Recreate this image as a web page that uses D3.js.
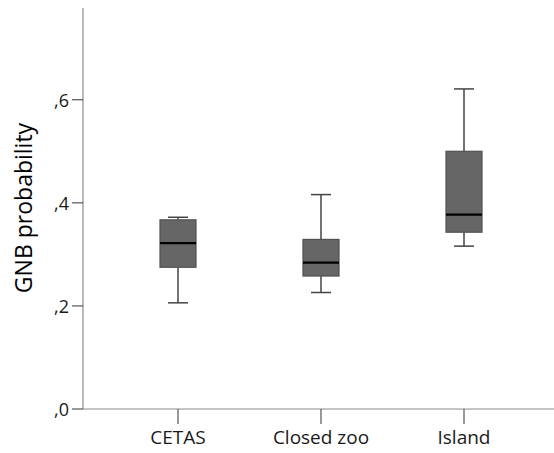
<!DOCTYPE html>
<html><head><meta charset="utf-8">
<script src="https://cdn.jsdelivr.net/npm/d3@7"></script>
<style>body{margin:0;background:#fff}svg{display:block}text{font-family:"Open Sans",sans-serif}</style>
</head><body><svg id="c" width="554" height="453"></svg>
<script>
const categories = ["CETAS", "Closed zoo", "Island"];
const whiskerLow = [0.206, 0.226, 0.316];
const q1 = [0.275, 0.258, 0.343];
const median = [0.322, 0.284, 0.377];
const q3 = [0.367, 0.329, 0.500];
const whiskerHigh = [0.372, 0.416, 0.621];
const yTicks = [0, 0.2, 0.4, 0.6];
const yTickLabels = [",0", ",2", ",4", ",6"];
const yLabel = "GNB probability";

(function () {
const svg = d3.select("#c");
const mLeft = 83, mRight = 554, mTop = 8, mBottom = 409;
const y = d3.scaleLinear().domain([0, 0.778]).range([mBottom, mTop]);
const x = d3.scalePoint().domain(categories).range([178, 464]);

svg.append("line").attr("x1", mLeft).attr("x2", mLeft).attr("y1", mTop).attr("y2", mBottom).attr("stroke", "#8c8c8c").attr("stroke-width", 1.2);
svg.append("line").attr("x1", mLeft).attr("x2", mRight).attr("y1", mBottom).attr("y2", mBottom).attr("stroke", "#8c8c8c").attr("stroke-width", 1.2);

yTicks.forEach((t, i) => {
  svg.append("line").attr("x1", mLeft - 11).attr("x2", mLeft).attr("y1", y(t)).attr("y2", y(t)).attr("stroke", "#555").attr("stroke-width", 1.2);
  svg.append("text").attr("x", mLeft - 14).attr("y", y(t) + 1).attr("dy", "0.35em").attr("text-anchor", "end")
    .attr("font-size", 18).attr("fill", "#1a1a1a").text(yTickLabels[i]);
});
categories.forEach(c => {
  svg.append("line").attr("x1", x(c)).attr("x2", x(c)).attr("y1", mBottom).attr("y2", mBottom + 15).attr("stroke", "#555").attr("stroke-width", 1.2);
  svg.append("text").attr("x", x(c)).attr("y", 437).attr("dy", "0.35em").attr("text-anchor", "middle")
    .attr("font-size", 19).attr("fill", "#1a1a1a").text(c);
});
svg.append("text").attr("transform", "translate(24,208) rotate(-90)").attr("dy", "0.35em")
  .attr("text-anchor", "middle").attr("font-size", 23).attr("fill", "#000").text(yLabel);

const bw = 36, cap = 20;
categories.forEach((c, i) => {
  const cx = x(c);
  const g = svg.append("g");
  const wcol = "#444";
  g.append("line").attr("x1", cx).attr("x2", cx).attr("y1", y(whiskerHigh[i])).attr("y2", y(q3[i])).attr("stroke", wcol).attr("stroke-width", 1.5);
  g.append("line").attr("x1", cx).attr("x2", cx).attr("y1", y(q1[i])).attr("y2", y(whiskerLow[i])).attr("stroke", wcol).attr("stroke-width", 1.5);
  g.append("line").attr("x1", cx - cap / 2).attr("x2", cx + cap / 2).attr("y1", y(whiskerHigh[i])).attr("y2", y(whiskerHigh[i])).attr("stroke", wcol).attr("stroke-width", 1.5);
  g.append("line").attr("x1", cx - cap / 2).attr("x2", cx + cap / 2).attr("y1", y(whiskerLow[i])).attr("y2", y(whiskerLow[i])).attr("stroke", wcol).attr("stroke-width", 1.5);
  g.append("rect").attr("x", cx - bw / 2).attr("width", bw).attr("y", y(q3[i])).attr("height", y(q1[i]) - y(q3[i]))
    .attr("fill", "#666").attr("stroke", "#505050").attr("stroke-width", 1.2);
  g.append("line").attr("x1", cx - bw / 2).attr("x2", cx + bw / 2).attr("y1", y(median[i])).attr("y2", y(median[i])).attr("stroke", "#000").attr("stroke-width", 2.2);
});
})();
</script></body></html>
